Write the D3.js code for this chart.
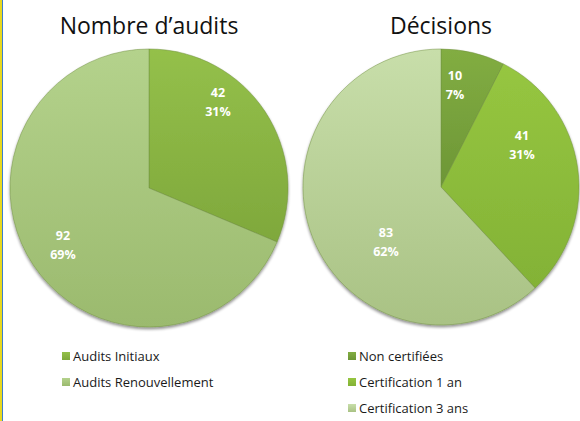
<!DOCTYPE html>
<html>
<head>
<meta charset="utf-8">
<script src="https://cdn.jsdelivr.net/npm/d3@7"></script>
<style>
  body { margin: 0; background: #fff; }
  svg { display: block; }
</style>
</head>
<body>
<div id="chart"></div>
<script>
// data
const auditCats = ['Audits Initiaux', 'Audits Renouvellement'];
const auditVals = [42, 92];
const auditPct = ['31%', '69%'];

const decisionCats = ['Non certifiées', 'Certification 1 an', 'Certification 3 ans'];
const decisionVals = [10, 41, 83];
const decisionPct = ['7%', '31%', '62%'];

const titles = ['Nombre d\u2019audits', 'Décisions'];

const W = 580, H = 421;

const svg = d3.select('#chart')
  .append('svg')
    .attr('width', W)
    .attr('height', H);

const defs = svg.append('defs');

// soft shadow round the pies
const shadow = defs.append('filter')
    .attr('id', 'shadow')
    .attr('x', '-10%').attr('y', '-10%')
    .attr('width', '120%').attr('height', '120%');
shadow.append('feGaussianBlur')
    .attr('in', 'SourceAlpha')
    .attr('stdDeviation', 1.5);
shadow.append('feOffset').attr('dx', 0).attr('dy', 1.5).attr('result', 'b');
shadow.append('feComponentTransfer').append('feFuncA').attr('type', 'linear').attr('slope', 0.45);
const merge = shadow.append('feMerge');
merge.append('feMergeNode');
merge.append('feMergeNode').attr('in', 'SourceGraphic');

function gradient(id, top, bottom) {
  const g = defs.append('linearGradient')
      .attr('id', id)
      .attr('x1', 0).attr('y1', 0)
      .attr('x2', 0).attr('y2', 1);
  g.append('stop').attr('offset', '0%').attr('stop-color', top);
  g.append('stop').attr('offset', '100%').attr('stop-color', bottom);
}

gradient('g-init', '#94c04a', '#7fa83c');
gradient('g-renew', '#b4d28c', '#9bba6e');
gradient('g-non', '#82ad42', '#6d9636');
gradient('g-c1', '#96c640', '#83b236');
gradient('g-c3', '#c8deaa', '#a9c284');

// left yellow/blue stripe
svg.append('rect').attr('x', 0).attr('y', 0).attr('width', 2).attr('height', H).attr('fill', '#e8d820');
svg.append('rect').attr('x', 2).attr('y', 0).attr('width', 1).attr('height', H).attr('fill', '#3a7fd0');

function drawPie(cfg) {
  const g = svg.append('g')
      .attr('transform', `translate(${cfg.cx},${cfg.cy})`);

  const pie = d3.pie().sort(null).value(d => d.value);
  const arc = d3.arc().innerRadius(0).outerRadius(cfg.r);
  const data = cfg.cats.map((c, i) => ({ cat: c, value: cfg.vals[i], pct: cfg.pct[i], fill: cfg.fills[i] }));
  const arcs = pie(data);

  const pieG = g.append('g').attr('filter', 'url(#shadow)');
  pieG.selectAll('path')
    .data(arcs)
    .join('path')
      .attr('d', arc)
      .attr('fill', d => `url(#${d.data.fill})`)
      .attr('stroke', '#6f8f40')
      .attr('stroke-opacity', 0.6)
      .attr('stroke-width', 0.8);

  const labels = g.selectAll('text.lbl')
    .data(arcs)
    .join('text')
      .attr('class', 'lbl')
      .attr('x', (d, i) => cfg.labelPos[i][0])
      .attr('y', (d, i) => cfg.labelPos[i][1])
      .attr('text-anchor', 'middle')
      .attr('fill', '#fff')
      .attr('font-family', 'Open Sans, sans-serif')
      .attr('font-weight', 'bold')
      .attr('font-size', 12.5);
  labels.append('tspan').attr('x', (d, i) => cfg.labelPos[i][0]).text(d => d.data.value);
  labels.append('tspan').attr('x', (d, i) => cfg.labelPos[i][0]).attr('dy', 19).text(d => d.data.pct);

  svg.append('text')
      .attr('x', cfg.cx)
      .attr('y', 34)
      .attr('text-anchor', 'middle')
      .attr('font-family', 'Open Sans, sans-serif')
      .attr('font-size', 23)
      .attr('fill', '#111')
      .text(cfg.title);

  const leg = svg.append('g')
      .attr('transform', `translate(${cfg.legX},${cfg.legY})`)
    .selectAll('g')
    .data(data)
    .join('g')
      .attr('transform', (d, i) => `translate(0,${i * 26})`);
  leg.append('rect')
      .attr('x', 0).attr('y', -9)
      .attr('width', 8).attr('height', 8)
      .attr('fill', d => `url(#${d.fill})`);
  leg.append('text')
      .attr('x', 11)
      .attr('y', 0)
      .attr('font-family', 'Open Sans, sans-serif')
      .attr('font-size', 13)
      .attr('fill', '#1a1a1a')
      .text(d => d.cat);
}

drawPie({
  cx: 149, cy: 188, r: 139,
  cats: auditCats, vals: auditVals, pct: auditPct,
  fills: ['g-init', 'g-renew'],
  labelPos: [[69, -91], [-86, 52]],
  title: titles[0],
  legX: 62, legY: 361
});

drawPie({
  cx: 441, cy: 187, r: 138,
  cats: decisionCats, vals: decisionVals, pct: decisionPct,
  fills: ['g-non', 'g-c1', 'g-c3'],
  labelPos: [[14, -107], [81, -47], [-55, 50]],
  title: titles[1],
  legX: 348, legY: 361
});
</script>
</body>
</html>
